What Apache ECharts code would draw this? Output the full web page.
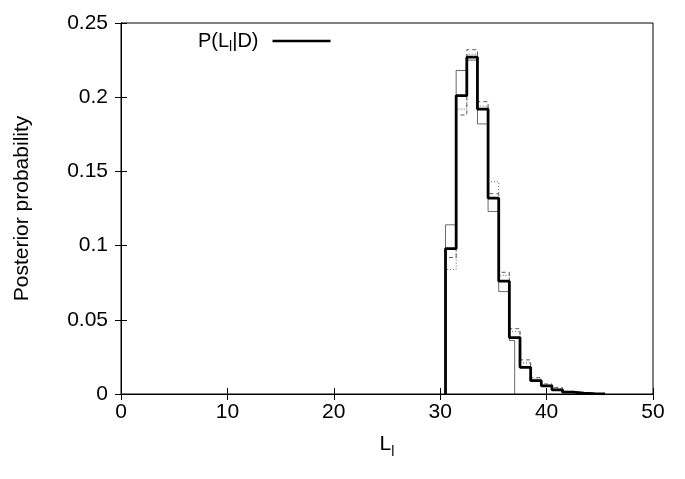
<!DOCTYPE html>
<html>
<head>
<meta charset="utf-8">
<script src="https://cdn.jsdelivr.net/npm/echarts@6/dist/echarts.min.js"></script>
<style>html,body{margin:0;padding:0;background:#fff}#c{width:685px;height:479px}</style>
</head>
<body>
<div id="c"></div>
<script>
// Bin centers (L_l values)
const binCenters = [31, 32, 33, 34, 35, 36, 37, 38, 39, 40, 41, 42, 43, 44, 45];
// Thick solid: P(L_l|D)
const posteriorMain = [0.098, 0.201, 0.227, 0.192, 0.132, 0.076, 0.038, 0.018, 0.009, 0.0055, 0.0028, 0.0012, 0.0005, 0.0002, 0.0001];
// Thin solid (ends at L=37)
const thinCenters = [31, 32, 33, 34, 35, 36, 37];
const posteriorThin = [0.114, 0.218, 0.225, 0.182, 0.123, 0.069, 0.036];
const thinLastEdge = 37.0;
// Dashed
const posteriorDashed = [0.092, 0.188, 0.232, 0.197, 0.135, 0.082, 0.044, 0.023, 0.011, 0.0068, 0.0043, 0.0018, 0.0008, 0.0003, 0.0001];
// Dotted
const posteriorDotted = [0.084, 0.192, 0.229, 0.194, 0.143, 0.080, 0.042, 0.021, 0.010, 0.006, 0.0035, 0.0015, 0.0006, 0.0003, 0.0001];

const xTicks = [0, 10, 20, 30, 40, 50];
const yTicks = [0, 0.05, 0.1, 0.15, 0.2, 0.25];

function histSteps(centers, vals, lastEdge) {
  const pts = [];
  const first = centers[0] - 0.5;
  pts.push([first, 0]);
  for (let i = 0; i < centers.length; i++) {
    const lo = centers[i] - 0.5;
    const hi = (i === centers.length - 1 && lastEdge != null) ? lastEdge : centers[i] + 0.5;
    pts.push([lo, vals[i]]);
    pts.push([hi, vals[i]]);
  }
  pts.push([pts[pts.length - 1][0], 0]);
  return pts;
}

const FONT = 'Liberation Sans';
const FS = 21;
const chart = echarts.init(document.getElementById('c'), null, {renderer: 'canvas'});
const tickStyle = {show: true, inside: true, length: 6, lineStyle: {color: '#000', width: 1}};

chart.setOption({
  animation: false,
  backgroundColor: '#fff',
  textStyle: {fontFamily: FONT},
  grid: {left: 121, right: 32, top: 23, bottom: 85, show: true, borderColor: '#000', borderWidth: 1, backgroundColor: 'transparent'},
  legend: {
    show: true,
    left: 193, top: 26,
    align: 'right',
    itemWidth: 58, itemHeight: 10, itemGap: 12,
    data: [{name: 'main', icon: 'path://M0,0L58,0L58,2.5L0,2.5Z'}],
    formatter: function () { return '{a|P(L}{b|l}{a||D)}{s|}'; },
    textStyle: {
      fontFamily: FONT, color: '#000',
      rich: {
        a: {fontSize: 20, fontFamily: FONT, color: '#000'},
        b: {fontSize: 14, fontFamily: FONT, color: '#000', padding: [12, 0, 0, 0]},
        s: {width: 9}
      }
    }
  },
  xAxis: [{
    type: 'value', min: 0, max: 50, interval: 10,
    position: 'bottom',
    name: '{a|L}{b|l}', nameLocation: 'middle', nameGap: 35,
    nameTextStyle: {rich: {
      a: {fontSize: FS, fontFamily: FONT, color: '#000'},
      b: {fontSize: 14, fontFamily: FONT, color: '#000', padding: [16, 0, 0, 0]}
    }},
    axisLine: {show: true, lineStyle: {color: '#000'}},
    axisTick: tickStyle,
    splitLine: {show: false},
    axisLabel: {fontSize: FS, color: '#000', fontFamily: FONT, margin: 8,
      formatter: function (v) { return xTicks.indexOf(v) >= 0 ? String(v) : ''; }}
  }, {
    type: 'value', min: 0, max: 50, interval: 10, position: 'top',
    axisLine: {show: true, lineStyle: {color: '#000'}},
    axisTick: tickStyle, axisLabel: {show: false}, splitLine: {show: false}
  }],
  yAxis: [{
    type: 'value', min: 0, max: 0.25, interval: 0.05,
    position: 'left',
    name: 'Posterior probability', nameLocation: 'middle', nameGap: 88,
    nameTextStyle: {fontSize: FS, color: '#000', fontFamily: FONT},
    axisLine: {show: true, lineStyle: {color: '#000'}},
    axisTick: tickStyle,
    splitLine: {show: false},
    axisLabel: {fontSize: FS, color: '#000', fontFamily: FONT, margin: 13,
      formatter: function (v) {
        const t = yTicks.find(function (y) { return Math.abs(y - v) < 1e-9; });
        return t === undefined ? '' : String(+t.toFixed(2));
      }}
  }, {
    type: 'value', min: 0, max: 0.25, interval: 0.05, position: 'right',
    axisLine: {show: true, lineStyle: {color: '#000'}},
    axisTick: tickStyle, axisLabel: {show: false}, splitLine: {show: false}
  }],
  series: [
    {name: 'thin', type: 'line', data: histSteps(thinCenters, posteriorThin, thinLastEdge), showSymbol: false,
      lineStyle: {color: '#444', width: 0.8}, z: 2},
    {name: 'dashed', type: 'line', data: histSteps(binCenters, posteriorDashed), showSymbol: false,
      lineStyle: {color: '#333', width: 0.8, type: [4, 3]}, z: 2},
    {name: 'dotted', type: 'line', data: histSteps(binCenters, posteriorDotted), showSymbol: false,
      lineStyle: {color: '#333', width: 0.8, type: [1, 2]}, z: 2},
    {name: 'main', type: 'line', data: histSteps(binCenters, posteriorMain), showSymbol: false,
      lineStyle: {color: '#000', width: 2.8}, itemStyle: {color: '#000'}, z: 3}
  ]
});
</script>
</body>
</html>
